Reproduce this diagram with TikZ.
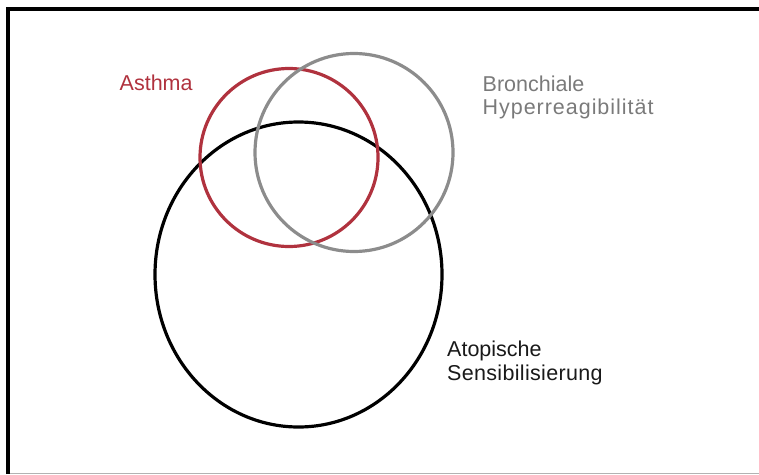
\documentclass[tikz,border=0pt]{standalone}
\usepackage{fontspec}
\setmainfont{Liberation Sans}
\usetikzlibrary{shapes.geometric}
\definecolor{asthmared}{RGB}{176,50,62}
\definecolor{hypergray}{RGB}{140,140,140}
\definecolor{labelgray}{RGB}{122,122,122}
\tikzset{
	venn/.style={draw, line width=3.2pt, inner sep=0pt},
	lbl/.style={anchor=base west, inner sep=0pt, font=\fontsize{21.5}{24}\selectfont},
	wide/.style={font=\fontsize{21.5}{24}\selectfont\addfontfeature{LetterSpace=#1}},
}
\begin{document}
\begin{tikzpicture}[x=1pt, y=-1pt]
	\useasboundingbox (0,0) rectangle (759,474);
	% frame
	\draw[line width=4pt] (8,474) -- (8,9) -- (759,9);
	\draw[black!30, line width=1pt] (10,473.5) -- (759,473.5);
	% sets
	\node[venn, ellipse, minimum width=287, minimum height=305] (atopy) at (298.5,274.5) {};
	\node[venn, circle, asthmared, minimum size=178] (asthma) at (289,157.5) {};
	\node[venn, circle, hypergray, minimum size=198] (hyper) at (354,152.5) {};
	% labels
	\node[lbl, asthmared] (asthmalbl) at (119.5,90.5) {Asthma};
	\node[lbl, labelgray] (hyperlbl1) at (482.5,91) {Bronchiale};
	\node[lbl, labelgray, wide=4.5] (hyperlbl2) at (482.5,114.5) {Hyperreagibilität};
	\node[lbl, black!90] (atopylbl1) at (447,356.5) {Atopische};
	\node[lbl, black!90, wide=1.5] (atopylbl2) at (447,380.5) {Sensibilisierung};
\end{tikzpicture}
\end{document}
